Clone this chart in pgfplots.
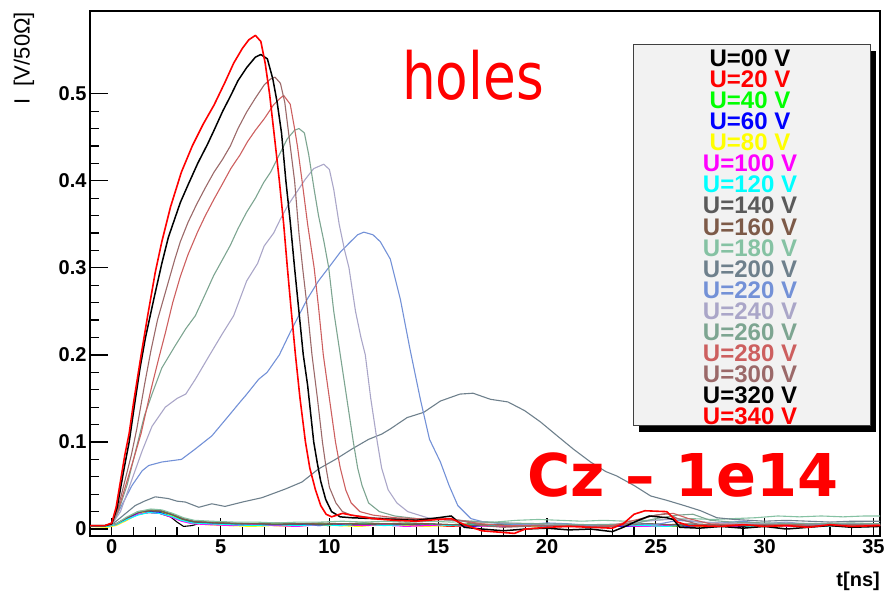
\documentclass[border=0pt]{standalone}
\usepackage{pgfplots}
\pgfplotsset{compat=1.18}
\usepackage{fontspec}
\setmainfont{Liberation Sans}
\newfontfamily\holesfont[FakeStretch=0.82]{DejaVu Sans}
\newfontfamily\czfont{DejaVu Sans}
\definecolor{c00}{rgb}{0,0,0}
\definecolor{c20}{rgb}{1,0,0}
\definecolor{c40}{rgb}{0,1,0}
\definecolor{c60}{rgb}{0,0,1}
\definecolor{c80}{rgb}{1,1,0}
\definecolor{c100}{rgb}{1,0,1}
\definecolor{c120}{rgb}{0,1,1}
\definecolor{c140}{RGB}{90,90,90}
\definecolor{c160}{RGB}{125,90,72}
\definecolor{c180}{RGB}{133,194,163}
\definecolor{c200}{RGB}{110,128,140}
\definecolor{c220}{RGB}{115,145,215}
\definecolor{c240}{RGB}{170,166,200}
\definecolor{c260}{RGB}{125,165,145}
\definecolor{c280}{RGB}{205,95,95}
\definecolor{c300}{RGB}{155,105,105}
\definecolor{c320}{rgb}{0,0,0}
\definecolor{c340}{rgb}{1,0,0}
\definecolor{legfill}{RGB}{242,242,242}
\begin{document}
\begin{tikzpicture}[x=1pt,y=1pt]
\useasboundingbox (0,0) rectangle (891,600);
\begin{axis}[at={(90pt,64pt)}, anchor=south west, width=790pt, height=525pt, scale only axis,
  xmin=-1, xmax=35.3, ymin=-0.008, ymax=0.595,
  axis line style={line width=1.2pt},
  xtick={0,5,...,35}, ytick={0,0.1,0.2,0.3,0.4,0.5},
  minor x tick num=4, minor y tick num=4,
  tick align=inside, xtick pos=bottom, ytick pos=left,
  major tick length=18pt, minor tick length=9pt,
  tick style={black, line width=1.2pt},
  tick label style={font=\bfseries\fontsize{20}{20}\selectfont},
  /pgf/number format/assume math mode=true,
  /pgf/number format/fixed,
  no markers, every axis plot/.append style={line width=1.1pt, line join=round}]
% noise curves
\addplot[c00] coordinates {(-1,0.004)(-0.2,0.003)(0.2,0.005)(0.7,0.011)(1.2,0.017)(1.7,0.019)(2.2,0.018)(2.7,0.014)(3.0,0.008)(3.3,0.003)(3.7,0.004)(4.2,0.008)(5,0.006)(6,0.005)(7,0.004)(8,0.006)(9,0.005)(10,0.004)(11,0.006)(12,0.005)(13,0.004)(14,0.006)(15,0.005)(16,0.004)(17,0.005)(18,0.003)(19,0.004)(20,0.005)(21,0.004)(22,0.003)(23,0.004)(24,0.005)(25,0.004)(26,0.003)(27,0.005)(28,0.004)(29,0.003)(30,0.005)(31,0.004)(32,0.003)(33,0.004)(34,0.005)(35.3,0.004)};
\addplot[c20] coordinates {(-1,0.003)(-0.2,0.004)(0.2,0.006)(0.7,0.012)(1.2,0.018)(1.7,0.02)(2.2,0.02)(2.7,0.016)(3.2,0.011)(3.7,0.008)(4.5,0.007)(5.5,0.005)(6.5,0.006)(7.5,0.004)(8.5,0.005)(9.5,0.006)(10.5,0.004)(11.5,0.005)(12.5,0.006)(13.5,0.004)(14.5,0.005)(15.5,0.003)(16.5,0.004)(17.5,0.005)(18.5,0.003)(19.5,0.004)(20.5,0.005)(21.5,0.004)(22.5,0.003)(23.5,0.004)(24.5,0.003)(25.5,0.005)(26.5,0.004)(27.5,0.003)(28.5,0.004)(29.5,0.005)(30.5,0.003)(31.5,0.004)(32.5,0.005)(33.5,0.003)(34.5,0.004)(35.3,0.004)};
\addplot[c40] coordinates {(-1,0.004)(-0.2,0.004)(0.2,0.005)(0.7,0.012)(1.2,0.019)(1.9,0.021)(2.4,0.019)(2.9,0.015)(3.4,0.01)(3.9,0.008)(4.6,0.006)(5.6,0.006)(6.6,0.005)(7.6,0.006)(8.6,0.004)(9.6,0.006)(10.6,0.005)(11.6,0.007)(12.6,0.005)(13.6,0.006)(14.6,0.004)(15.6,0.005)(16.6,0.006)(17.6,0.004)(18.6,0.005)(19.6,0.006)(20.6,0.004)(21.6,0.005)(22.6,0.004)(23.6,0.005)(24.6,0.006)(25.6,0.004)(26.6,0.005)(27.6,0.004)(28.6,0.006)(29.6,0.004)(30.6,0.005)(31.6,0.004)(32.6,0.005)(33.6,0.006)(34.6,0.004)(35.3,0.005)};
\addplot[c60] coordinates {(-1,0.003)(-0.2,0.003)(0.2,0.006)(0.7,0.013)(1.2,0.018)(1.7,0.02)(2.2,0.019)(2.7,0.015)(3.2,0.01)(3.7,0.007)(4.5,0.006)(5.5,0.005)(6.5,0.004)(7.5,0.005)(8.5,0.006)(9.5,0.004)(10.5,0.005)(11.5,0.004)(12.5,0.006)(13.5,0.005)(14.5,0.004)(15.5,0.005)(16.5,0.003)(17.5,0.004)(18.5,0.005)(19.5,0.003)(20.5,0.004)(21.5,0.005)(22.5,0.004)(23.5,0.003)(24.5,0.004)(25.5,0.005)(26.5,0.003)(27.5,0.004)(28.5,0.005)(29.5,0.004)(30.5,0.003)(31.5,0.005)(32.5,0.004)(33.5,0.005)(34.5,0.003)(35.3,0.004)};
\addplot[c80] coordinates {(-1,0.003)(-0.2,0.002)(0.2,0.004)(0.7,0.01)(1.2,0.017)(1.7,0.021)(2.1,0.022)(2.6,0.017)(3.1,0.011)(3.6,0.007)(4.4,0.005)(5.4,0.004)(6.4,0.003)(7.4,0.004)(8.4,0.003)(9.4,0.005)(10.4,0.004)(11.4,0.003)(12.4,0.005)(13.4,0.004)(14.4,0.003)(15.4,0.004)(16.4,0.005)(17.4,0.003)(18.4,0.004)(19.4,0.003)(20.4,0.005)(21.4,0.004)(22.4,0.003)(23.4,0.004)(24.4,0.005)(25.4,0.003)(26.4,0.004)(27.4,0.003)(28.4,0.005)(29.4,0.004)(30.4,0.003)(31.4,0.004)(32.4,0.005)(33.4,0.004)(34.4,0.003)(35.3,0.004)};
\addplot[c100] coordinates {(-1,0.004)(-0.2,0.003)(0.2,0.005)(0.7,0.011)(1.2,0.017)(1.7,0.019)(2.2,0.018)(2.7,0.014)(3.2,0.009)(3.7,0.006)(4.5,0.005)(5.5,0.004)(6.5,0.005)(7.5,0.004)(8.5,0.003)(9.5,0.005)(10.5,0.006)(11.5,0.004)(12.5,0.005)(13.5,0.003)(14.5,0.004)(15.5,0.005)(16.5,0.004)(17.5,0.003)(18.5,0.004)(19.5,0.005)(20.5,0.003)(21.5,0.004)(22.5,0.005)(23.5,0.004)(24.5,0.003)(25.5,0.004)(26.5,0.005)(27.5,0.004)(28.5,0.003)(29.5,0.005)(30.5,0.004)(31.5,0.003)(32.5,0.004)(33.5,0.005)(34.5,0.004)(35.3,0.004)};
\addplot[c120] coordinates {(-1,0.003)(-0.2,0.003)(0.2,0.005)(0.7,0.011)(1.2,0.016)(1.7,0.019)(2.2,0.018)(2.7,0.015)(3.2,0.01)(3.7,0.007)(4.5,0.006)(5.5,0.005)(6.5,0.004)(7.5,0.005)(8.5,0.004)(9.5,0.005)(10.5,0.004)(11.5,0.006)(12.5,0.004)(13.5,0.005)(14.5,0.006)(15.5,0.004)(16.5,0.005)(17.5,0.004)(18.5,0.005)(19.5,0.004)(20.5,0.003)(21.5,0.005)(22.5,0.004)(23.5,0.005)(24.5,0.004)(25.5,0.003)(26.5,0.005)(27.5,0.004)(28.5,0.005)(29.5,0.003)(30.5,0.004)(31.5,0.005)(32.5,0.003)(33.5,0.004)(34.5,0.005)(35.3,0.004)};
\addplot[c140] coordinates {(-1,0.004)(-0.2,0.004)(0.2,0.006)(0.7,0.013)(1.2,0.019)(1.8,0.021)(2.3,0.02)(2.8,0.016)(3.3,0.011)(3.8,0.008)(4.6,0.007)(5.6,0.006)(6.6,0.006)(7.6,0.005)(8.6,0.006)(9.6,0.005)(10.6,0.006)(11.6,0.005)(12.6,0.006)(13.6,0.005)(14.6,0.006)(15.6,0.005)(16.6,0.004)(17.6,0.005)(18.6,0.004)(19.6,0.005)(20.6,0.004)(21.6,0.005)(22.6,0.004)(23.6,0.005)(24.6,0.006)(25.6,0.005)(26.6,0.004)(27.6,0.005)(28.6,0.004)(29.6,0.005)(30.6,0.004)(31.6,0.005)(32.6,0.004)(33.6,0.005)(34.6,0.004)(35.3,0.005)};
\addplot[c160] coordinates {(-1,0.004)(-0.2,0.004)(0.2,0.006)(0.7,0.013)(1.2,0.02)(1.8,0.022)(2.3,0.021)(2.8,0.017)(3.3,0.012)(3.8,0.009)(4.6,0.008)(5.6,0.007)(6.6,0.006)(7.6,0.007)(8.6,0.006)(9.6,0.007)(10.6,0.006)(11.6,0.007)(12.6,0.006)(13.6,0.007)(14.6,0.006)(15.6,0.005)(16.6,0.006)(17.6,0.005)(18.6,0.004)(19.6,0.005)(20.6,0.004)(21.6,0.005)(22.6,0.004)(23.6,0.005)(24.6,0.006)(25.6,0.005)(26.6,0.006)(27.6,0.005)(28.6,0.004)(29.6,0.005)(30.6,0.004)(31.6,0.005)(32.6,0.004)(33.6,0.005)(34.6,0.004)(35.3,0.005)};
\addplot[c180] coordinates {(-1,0.004)(-0.2,0.004)(0.2,0.006)(0.7,0.014)(1.2,0.02)(1.8,0.023)(2.3,0.022)(2.8,0.018)(3.3,0.013)(3.8,0.01)(4.6,0.009)(5.6,0.008)(6.6,0.008)(7.6,0.007)(8.6,0.008)(9.6,0.008)(10.6,0.009)(11.6,0.008)(12.6,0.009)(13.6,0.008)(14.6,0.009)(15.6,0.008)(16.6,0.009)(17.6,0.008)(18.6,0.01)(19.6,0.011)(20.6,0.01)(21.6,0.009)(22.6,0.01)(23.6,0.009)(24.6,0.01)(25.6,0.011)(26.6,0.012)(27.6,0.011)(28.6,0.012)(29.6,0.013)(30.6,0.015)(31.6,0.014)(32.6,0.015)(33.6,0.014)(34.6,0.015)(35.3,0.015)};
% signal curves
\addplot[c200] coordinates {(-1,0.004)(-0.3,0.004)(0,0.005)(0.3,0.011)(1.08,0.027)(1.5,0.032)(2.0,0.037)(2.6,0.035)(3.0,0.032)(3.38,0.031)(4.0,0.025)(4.6,0.029)(5.2,0.026)(6.0,0.031)(6.9,0.036)(7.98,0.046)(8.74,0.054)(9.5,0.069)(10.28,0.08)(11.04,0.092)(11.8,0.103)(12.4,0.109)(12.8,0.115)(13.57,0.128)(14.33,0.134)(15.1,0.147)(16.0,0.155)(16.6,0.156)(17.4,0.149)(18.2,0.146)(18.97,0.136)(19.7,0.123)(20.47,0.107)(21.2,0.092)(22.0,0.077)(22.7,0.066)(23.2,0.061)(24.0,0.05)(24.76,0.038)(25.5,0.033)(26.3,0.027)(27.06,0.021)(27.8,0.013)(28.6,0.011)(29.3,0.01)(30,0.009)(31,0.01)(32,0.009)(33,0.008)(34,0.009)(35.3,0.009)};
\addplot[c220] coordinates {(-1,0.004)(-0.3,0.004)(0,0.005)(0.31,0.02)(0.93,0.05)(1.4,0.067)(1.7,0.073)(2.3,0.077)(3.2,0.08)(3.84,0.092)(4.6,0.107)(5.37,0.13)(5.9,0.146)(6.14,0.153)(6.75,0.172)(7.14,0.18)(7.7,0.2)(8.2,0.226)(8.98,0.264)(9.5,0.285)(10.05,0.303)(10.5,0.318)(10.97,0.33)(11.3,0.338)(11.58,0.341)(12.0,0.338)(12.34,0.33)(12.8,0.31)(13.26,0.264)(13.7,0.207)(14.18,0.149)(14.6,0.103)(15.1,0.077)(15.5,0.05)(15.9,0.027)(16.5,0.012)(17.1,0.008)(18,0.006)(19,0.005)(20,0.007)(21,0.006)(22,0.004)(23,0.005)(24,0.006)(25,0.005)(26,0.01)(27,0.008)(28,0.007)(29,0.009)(30,0.006)(31,0.008)(32,0.005)(34,0.006)(35.3,0.005)};
\addplot[c240] coordinates {(-1,0.004)(-0.3,0.004)(0,0.005)(0.4,0.02)(0.9,0.055)(1.4,0.09)(1.85,0.118)(2.46,0.14)(3.0,0.15)(3.4,0.155)(3.84,0.172)(4.5,0.2)(5.1,0.225)(5.6,0.245)(6.2,0.285)(6.7,0.305)(7.0,0.325)(7.44,0.34)(7.75,0.356)(8.1,0.372)(8.5,0.387)(8.9,0.402)(9.28,0.414)(9.74,0.419)(10.0,0.413)(10.2,0.39)(10.45,0.35)(10.7,0.32)(10.9,0.3)(11.2,0.25)(11.45,0.22)(11.65,0.2)(11.9,0.15)(12.2,0.1)(12.4,0.07)(12.7,0.045)(13.1,0.03)(13.6,0.02)(14.5,0.013)(15.5,0.01)(17,0.008)(19,0.006)(21,0.005)(23,0.005)(25,0.01)(26,0.012)(27,0.008)(29,0.006)(31,0.007)(33,0.006)(35.3,0.006)};
\addplot[c260] coordinates {(-1,0.004)(-0.3,0.004)(0,0.005)(0.3,0.02)(0.7,0.05)(1.1,0.09)(1.5,0.13)(1.85,0.155)(2.3,0.185)(2.9,0.21)(3.4,0.23)(3.84,0.245)(4.3,0.27)(4.68,0.291)(5.1,0.31)(5.45,0.326)(5.8,0.345)(6.2,0.364)(6.6,0.38)(6.98,0.398)(7.3,0.41)(7.6,0.425)(8.06,0.448)(8.4,0.458)(8.6,0.46)(8.85,0.455)(9.05,0.43)(9.3,0.39)(9.5,0.36)(9.75,0.33)(9.97,0.3)(10.2,0.25)(10.5,0.2)(10.8,0.15)(11.1,0.1)(11.3,0.07)(11.5,0.05)(11.8,0.03)(12.3,0.02)(13,0.015)(14,0.012)(15,0.011)(16,0.01)(17,0.008)(18,0.007)(20,0.006)(22,0.005)(24,0.006)(25,0.012)(26,0.016)(26.7,0.017)(27.5,0.01)(28.5,0.008)(30,0.007)(32,0.006)(34,0.007)(35.3,0.006)};
\addplot[c280] coordinates {(-1,0.004)(-0.3,0.004)(0,0.006)(0.3,0.022)(0.7,0.055)(1.0,0.08)(1.35,0.11)(1.8,0.16)(2.2,0.2)(2.46,0.225)(2.8,0.26)(3.15,0.29)(3.5,0.315)(3.94,0.341)(4.3,0.36)(4.7,0.379)(5.1,0.397)(5.47,0.414)(5.9,0.43)(6.24,0.445)(6.6,0.458)(7.0,0.471)(7.43,0.487)(7.7,0.494)(7.9,0.498)(8.2,0.488)(8.4,0.46)(8.53,0.44)(8.77,0.395)(9.0,0.35)(9.3,0.3)(9.5,0.255)(9.72,0.2)(10.0,0.15)(10.28,0.1)(10.5,0.07)(10.75,0.045)(11.0,0.03)(11.4,0.02)(12,0.016)(13,0.013)(14,0.012)(15,0.011)(16,0.01)(17,0.006)(18,0.004)(20,0.004)(22,0.003)(23,0.004)(24,0.01)(25,0.016)(25.8,0.018)(26.5,0.012)(27.5,0.006)(29,0.005)(31,0.005)(33,0.004)(35.3,0.005)};
\addplot[c300] coordinates {(-1,0.004)(-0.3,0.004)(0,0.006)(0.3,0.025)(0.6,0.055)(0.9,0.085)(1.15,0.115)(1.5,0.165)(1.8,0.205)(2.1,0.24)(2.5,0.275)(2.9,0.31)(3.15,0.33)(3.5,0.352)(3.9,0.373)(4.3,0.392)(4.7,0.41)(5.1,0.425)(5.45,0.44)(5.8,0.46)(6.2,0.479)(6.6,0.495)(7.0,0.51)(7.3,0.517)(7.5,0.519)(7.75,0.512)(7.95,0.49)(8.15,0.45)(8.4,0.4)(8.6,0.34)(8.77,0.3)(9.0,0.25)(9.2,0.2)(9.45,0.15)(9.68,0.1)(9.85,0.07)(10.0,0.048)(10.3,0.03)(10.6,0.02)(11,0.016)(12,0.013)(13,0.012)(14,0.011)(15,0.012)(16,0.01)(17,0.004)(18,0.002)(19,0.003)(20,0.004)(22,0.003)(23,0.003)(24,0.008)(24.8,0.015)(25.5,0.018)(26,0.012)(27,0.005)(28,0.004)(30,0.005)(32,0.004)(34,0.005)(35.3,0.004)};
\addplot[c320, line width=1.5pt] coordinates {(-1,0.004)(-0.3,0.004)(0,0.006)(0.25,0.025)(0.57,0.07)(0.8,0.1)(1.03,0.14)(1.3,0.185)(1.55,0.22)(1.94,0.265)(2.3,0.305)(2.6,0.335)(3.15,0.375)(3.5,0.395)(3.95,0.42)(4.4,0.442)(4.7,0.458)(5.1,0.48)(5.45,0.497)(5.8,0.515)(6.2,0.53)(6.6,0.542)(6.85,0.545)(7.15,0.54)(7.4,0.517)(7.6,0.49)(7.8,0.455)(8.0,0.4)(8.2,0.353)(8.4,0.3)(8.6,0.25)(8.8,0.2)(9.0,0.165)(9.28,0.1)(9.45,0.075)(9.6,0.055)(9.83,0.034)(10.1,0.02)(10.5,0.014)(11,0.013)(12,0.012)(13,0.011)(14,0.01)(15,0.013)(15.6,0.015)(16.2,0.002)(17,0.0)(18,-0.002)(19,0.0)(20,0.001)(21,-0.001)(22,0.0)(23,-0.003)(23.5,0.002)(24.2,0.01)(24.7,0.015)(25.5,0.013)(25.8,0.011)(26.1,0.002)(27,0.001)(28,0.003)(29,0.001)(30,0.003)(31,0.0)(32,0.002)(33,0.004)(34,0.002)(35.3,0.003)};
\addplot[c340, line width=1.6pt] coordinates {(-1,0.004)(-0.3,0.004)(0,0.007)(0.2,0.025)(0.4,0.055)(0.6,0.085)(0.8,0.11)(1.0,0.145)(1.35,0.2)(1.65,0.245)(2.0,0.295)(2.3,0.33)(2.7,0.37)(3.2,0.41)(3.7,0.44)(4.2,0.465)(4.7,0.487)(5.2,0.513)(5.6,0.535)(6.0,0.552)(6.3,0.562)(6.6,0.567)(6.85,0.56)(7.05,0.535)(7.25,0.5)(7.5,0.445)(7.7,0.4)(7.9,0.35)(8.07,0.3)(8.25,0.25)(8.44,0.2)(8.65,0.15)(8.9,0.1)(9.1,0.07)(9.36,0.045)(9.6,0.027)(9.85,0.017)(10.1,0.014)(10.6,0.018)(11.0,0.016)(12,0.012)(13,0.01)(14,0.009)(15,0.011)(15.6,0.012)(16.2,0.005)(17,-0.002)(18,-0.004)(18.5,-0.005)(19,0.0)(20,0.002)(21,0.003)(22,0.002)(23,0.001)(23.5,0.006)(24,0.017)(24.5,0.021)(25.5,0.02)(26,0.008)(26.5,0.004)(28,0.003)(29,0.005)(30,0.003)(31,0.004)(32,0.002)(33,0.005)(34,0.003)(35.3,0.004)};
\end{axis}
% texts
\node[rotate=90, anchor=east, inner sep=0pt, font=\fontsize{22}{22}\selectfont] at (24,588) {I\ \ [V/50Ω]};
\node[anchor=base east, inner sep=0pt, font=\bfseries\fontsize{20}{20}\selectfont] at (880,14) {t[ns]};
\node[anchor=base west, inner sep=0pt, text=red, font=\holesfont\fontsize{65}{65}\selectfont] at (402,500) {holes};
\node[anchor=base west, inner sep=0pt, text=red, font=\czfont\bfseries\fontsize{59}{59}\selectfont] at (527,104) {Cz – 1e14};
% legend
\fill[black] (639,168) rectangle (876,549);
\filldraw[fill=legfill, draw=black!75, line width=1pt] (633,174) rectangle (870,555);
\foreach \lab/\col [count=\i from 0] in {00/c00,20/c20,40/c40,60/c60,80/c80,100/c100,120/c120,140/c140,160/c160,180/c180,200/c200,220/c220,240/c240,260/c260,280/c280,300/c300,320/c320,340/c340}
  \node[text=\col, inner sep=0pt, font=\bfseries\fontsize{24}{24}\selectfont] at (750,{542-21.1*\i}) {U=\lab\ V};
\end{tikzpicture}
\end{document}
